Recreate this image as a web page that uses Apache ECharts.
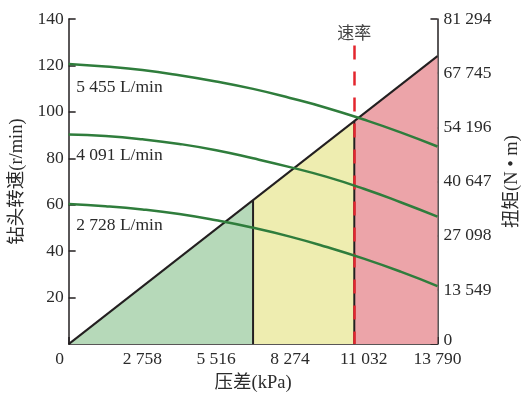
<!DOCTYPE html>
<html>
<head>
<meta charset="utf-8">
<style>
  html, body { margin: 0; padding: 0; background: #fff; }
  #chart { width: 529px; height: 397px; }
</style>
<script src="https://cdn.jsdelivr.net/npm/echarts@6/dist/echarts.min.js"></script>
</head>
<body>
<div id="chart"></div>
<script>
// Pressure drop sample points (kPa)
const pressure = [0, 1379, 2758, 4137, 5516, 6895, 8274, 9653, 11032, 12411, 13790];

// Bit speed (r/min) for each flow rate
const flowNames = ['5 455 L/min', '4 091 L/min', '2 728 L/min'];
const speed5455 = [120.6, 119.5, 118.0, 115.8, 113.1, 109.9, 106.0, 101.7, 96.7, 91.2, 85.1];
const speed4091 = [90.3, 89.6, 88.2, 86.2, 83.5, 80.0, 76.2, 72.0, 66.9, 61.1, 54.9];
const speed2728 = [60.3, 59.4, 58.0, 56.0, 53.3, 50.1, 46.3, 41.8, 36.8, 31.2, 25.0];

// Torque line: zone boundaries along the pressure axis and their heights (left-axis units)
const zoneKPa = [0, 6895, 10680, 13790];
const zoneTop = [0, 62, 96, 124];

// Rate marker
const rateKPa = 10680;
const rateTop = 128.6;
const rateText = '速率';

// Axis ticks
const xTicks = [0, 2758, 5516, 8274, 11032, 13790];
const leftTicks = [0, 20, 40, 60, 80, 100, 120, 140];
const rightTicks = [0, 13549, 27098, 40647, 54196, 67745, 81294];

const FONT = "'Liberation Serif', 'Noto Sans CJK SC', serif";
const TEXT = '#2b2b2b';
const AXIS = '#231f20';
const CURVE = '#2f7d3c';
const zoneFill = ['#b6d9b9', '#eeedb0', '#eca4a9'];

const fmt = v => String(v).replace(/\B(?=(\d{3})+(?!\d))/g, ' ');

const chart = echarts.init(document.getElementById('chart'), null, { renderer: 'canvas' });

const series = [];

// Shaded zones under the torque line
for (let i = 0; i < 3; i++) {
  series.push({
    type: 'line',
    yAxisIndex: 0,
    data: [[zoneKPa[i], zoneTop[i]], [zoneKPa[i + 1], zoneTop[i + 1]]],
    showSymbol: false,
    lineStyle: { width: 0 },
    areaStyle: { color: zoneFill[i], opacity: 1 },
    silent: true,
    z: 1
  });
}

// Vertical zone dividers
for (let i = 1; i < 3; i++) {
  series.push({
    type: 'line',
    data: [[zoneKPa[i], 0], [zoneKPa[i], zoneTop[i]]],
    showSymbol: false,
    lineStyle: { color: AXIS, width: 2 },
    silent: true,
    z: 2
  });
}

// Torque line with the rate marker
series.push({
  type: 'line',
  data: [[zoneKPa[0], zoneTop[0]], [zoneKPa[3], zoneTop[3]]],
  showSymbol: false,
  lineStyle: { color: AXIS, width: 2 },
  silent: true,
  z: 3,
  markLine: {
    silent: true,
    symbol: 'none',
    animation: false,
    lineStyle: { color: '#e3262e', width: 2.5, type: [14, 12] },
    label: {
      show: true,
      position: 'start',
      formatter: rateText,
      color: '#444',
      fontFamily: FONT,
      fontSize: 17,
      distance: 2
    },
    data: [[{ coord: [rateKPa, rateTop] }, { coord: [rateKPa, 0] }]]
  }
});

// Speed curves
const curves = [speed5455, speed4091, speed2728];
const labelDy = [15, 12.5, 13];
curves.forEach((vals, k) => {
  series.push({
    type: 'line',
    name: flowNames[k],
    smooth: true,
    symbol: 'circle',
    symbolSize: 0.01,
    showSymbol: true,
    itemStyle: { color: CURVE },
    lineStyle: { color: CURVE, width: 2.5 },
    data: vals.map((v, j) => {
      const d = { value: [pressure[j], v] };
      if (j === 0) {
        d.label = {
          show: true,
          formatter: flowNames[k],
          position: [7.5, labelDy[k]],
          align: 'left',
          verticalAlign: 'top',
          color: TEXT,
          fontFamily: FONT,
          fontSize: 17.5
        };
      }
      return d;
    }),
    silent: true,
    z: 5
  });
});

const option = {
  animation: false,
  grid: { left: 67, right: 89, top: 19, bottom: 48, containLabel: false },
  xAxis: {
    type: 'value',
    min: xTicks[0],
    max: xTicks[xTicks.length - 1],
    interval: xTicks[1] - xTicks[0],
    name: '压差(kPa)',
    nameLocation: 'middle',
    nameGap: 24,
    nameTextStyle: { color: TEXT, fontFamily: FONT, fontSize: 18.5 },
    axisLine: { show: true, lineStyle: { color: AXIS, width: 1.5 } },
    axisTick: { show: true, inside: true, length: 7, lineStyle: { color: AXIS, width: 1.5 } },
    splitLine: { show: false },
    axisLabel: {
      color: TEXT,
      fontFamily: FONT,
      fontSize: 17.5,
      margin: 7,
      formatter: v => (v === 0 ? '{z|0}' : fmt(v)),
      rich: { z: { padding: [0, 18, 0, 0], color: TEXT, fontFamily: FONT, fontSize: 17.5 } }
    }
  },
  yAxis: [
    {
      type: 'value',
      position: 'left',
      min: leftTicks[0],
      max: leftTicks[leftTicks.length - 1],
      interval: leftTicks[1] - leftTicks[0],
      name: '钻头转速(r/min)',
      nameLocation: 'middle',
      nameRotate: 90,
      nameGap: 38,
      nameTextStyle: { color: TEXT, fontFamily: FONT, fontSize: 18.5 },
      axisLine: { show: true, lineStyle: { color: AXIS, width: 1.5 } },
      axisTick: { show: true, inside: true, length: 7, lineStyle: { color: AXIS, width: 1.5 } },
      splitLine: { show: false },
      axisLabel: {
        color: TEXT,
        fontFamily: FONT,
        fontSize: 17.5,
        margin: 5,
        showMinLabel: false
      }
    },
    {
      type: 'value',
      position: 'right',
      min: rightTicks[0],
      max: rightTicks[rightTicks.length - 1],
      interval: rightTicks[1] - rightTicks[0],
      name: '扭矩(N • m)',
      nameLocation: 'middle',
      nameRotate: 90,
      nameGap: 62,
      nameTextStyle: { color: TEXT, fontFamily: FONT, fontSize: 18.5 },
      axisLine: { show: true, lineStyle: { color: AXIS, width: 1.5 } },
      axisTick: { show: true, inside: true, length: 7, lineStyle: { color: AXIS, width: 1.5 } },
      splitLine: { show: false },
      axisLabel: {
        color: TEXT,
        fontFamily: FONT,
        fontSize: 17.5,
        margin: 6,
        formatter: v => (v === 0 ? '{z|0}' : fmt(v)),
        rich: { z: { padding: [0, 0, 8, 0], color: TEXT, fontFamily: FONT, fontSize: 17.5 } }
      }
    }
  ],
  series: series
};

chart.setOption(option);
</script>
</body>
</html>
